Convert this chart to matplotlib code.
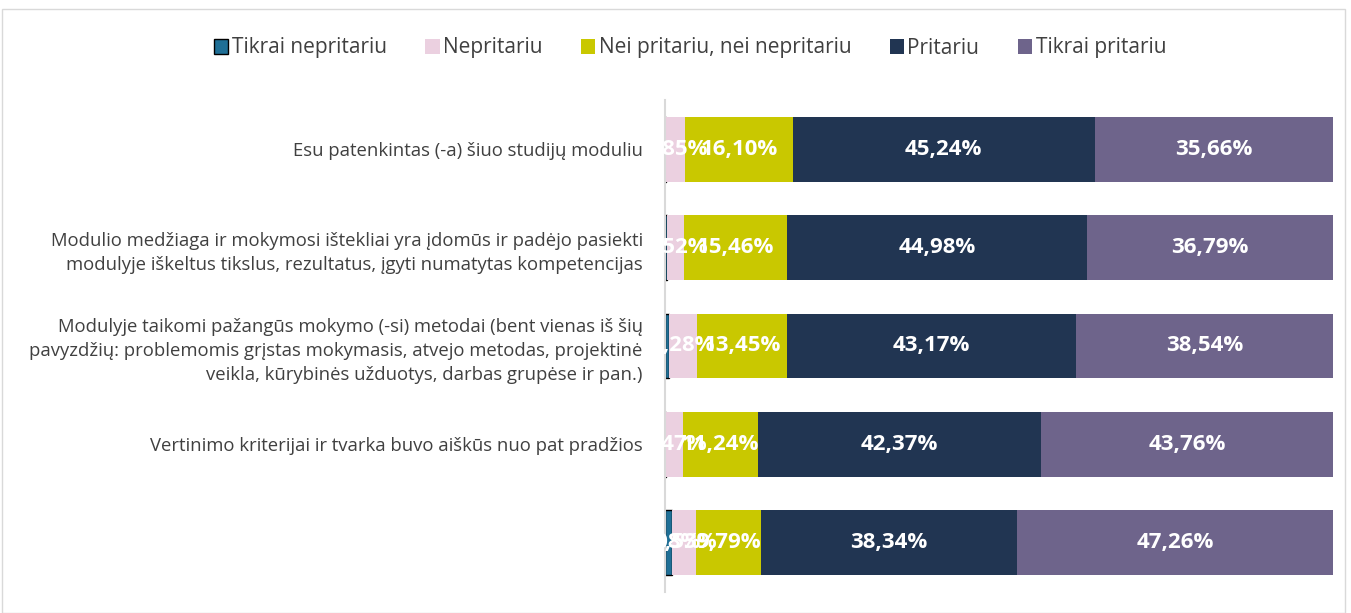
import matplotlib.pyplot as plt
import numpy as np

# Atsakymų pasiskirstymas (%)
kategorijos = [
    "Esu patenkintas (-a) šiuo studijų moduliu",
    "Modulio medžiaga ir mokymosi ištekliai yra įdomūs ir padėjo pasiekti\nmodulyje iškeltus tikslus, rezultatus, įgyti numatytas kompetencijas",
    "Modulyje taikomi pažangūs mokymo (-si) metodai (bent vienas iš šių\npavyzdžių: problemomis grįstas mokymasis, atvejo metodas, projektinė\nveikla, kūrybinės užduotys, darbas grupėse ir pan.)",
    "Vertinimo kriterijai ir tvarka buvo aiškūs nuo pat pradžios",
    "",
]
serijos = ["Tikrai nepritariu", "Nepritariu", "Nei pritariu, nei nepritariu", "Pritariu", "Tikrai pritariu"]
tikrai_nepritariu = [0.15, 0.25, 0.56, 0.16, 1.08]
nepritariu = [2.85, 2.52, 4.28, 2.47, 3.53]
nei = [16.10, 15.46, 13.45, 11.24, 9.79]
pritariu = [45.24, 44.98, 43.17, 42.37, 38.34]
tikrai_pritariu = [35.66, 36.79, 38.54, 43.76, 47.26]

spalvos = ["#1f6f96", "#ebd0e0", "#c9c800", "#213552", "#6e648b"]
kraštai = ["black", "none", "none", "none", "none"]

plt.rcParams['font.family'] = ['Open Sans', 'DejaVu Sans']

fig = plt.figure(figsize=(13.51, 6.13), dpi=100)
ax = fig.add_axes([665 / 1351, 1 - 592 / 613, 668 / 1351, 492 / 613])

y = np.arange(len(kategorijos))
kairė = np.zeros(len(kategorijos))
for vardas, reikšmės, sp, kr in zip(serijos,
                                    [tikrai_nepritariu, nepritariu, nei, pritariu, tikrai_pritariu],
                                    spalvos, kraštai):
    reikšmės = np.array(reikšmės)
    ax.barh(y, reikšmės, left=kairė, height=0.66, color=sp, label=vardas,
            edgecolor=kr, linewidth=1.0 if kr != "none" else 0)
    for yi, k, v in zip(y, kairė, reikšmės):
        if v >= 1:
            ax.text(k + v / 2, yi, f"{v:.2f}%".replace(".", ","), ha="center", va="center",
                    color="white", fontsize=16, fontweight="bold", clip_on=False)
    kairė += reikšmės

ax.set_xlim(0, 100)
ax.set_ylim(len(kategorijos) - 0.5, -0.5)
ax.set_yticks(y)
ax.set_yticklabels(kategorijos, fontsize=13.3, color="#404040", linespacing=1.45)
ax.tick_params(axis="y", length=0, pad=16)
ax.set_xticks([])
for s in ["top", "right", "bottom"]:
    ax.spines[s].set_visible(False)
ax.spines["left"].set_color("#d9d9d9")
ax.spines["left"].set_linewidth(1.5)

h, l = ax.get_legend_handles_labels()
fig.legend(h, l, loc="center", bbox_to_anchor=(690 / 1351, 1 - 48 / 613), ncol=5, frameon=False,
           fontsize=15, handlelength=0.7, handleheight=0.7, handletextpad=0.15,
           columnspacing=1.85, labelcolor="#404040")

fig.add_artist(plt.Rectangle((2 / 1351, 0), 1343 / 1351, 1 - 9 / 613, transform=fig.transFigure,
                             fill=False, edgecolor="#d9d9d9", linewidth=1))

fig.savefig("out.png", dpi=100)
